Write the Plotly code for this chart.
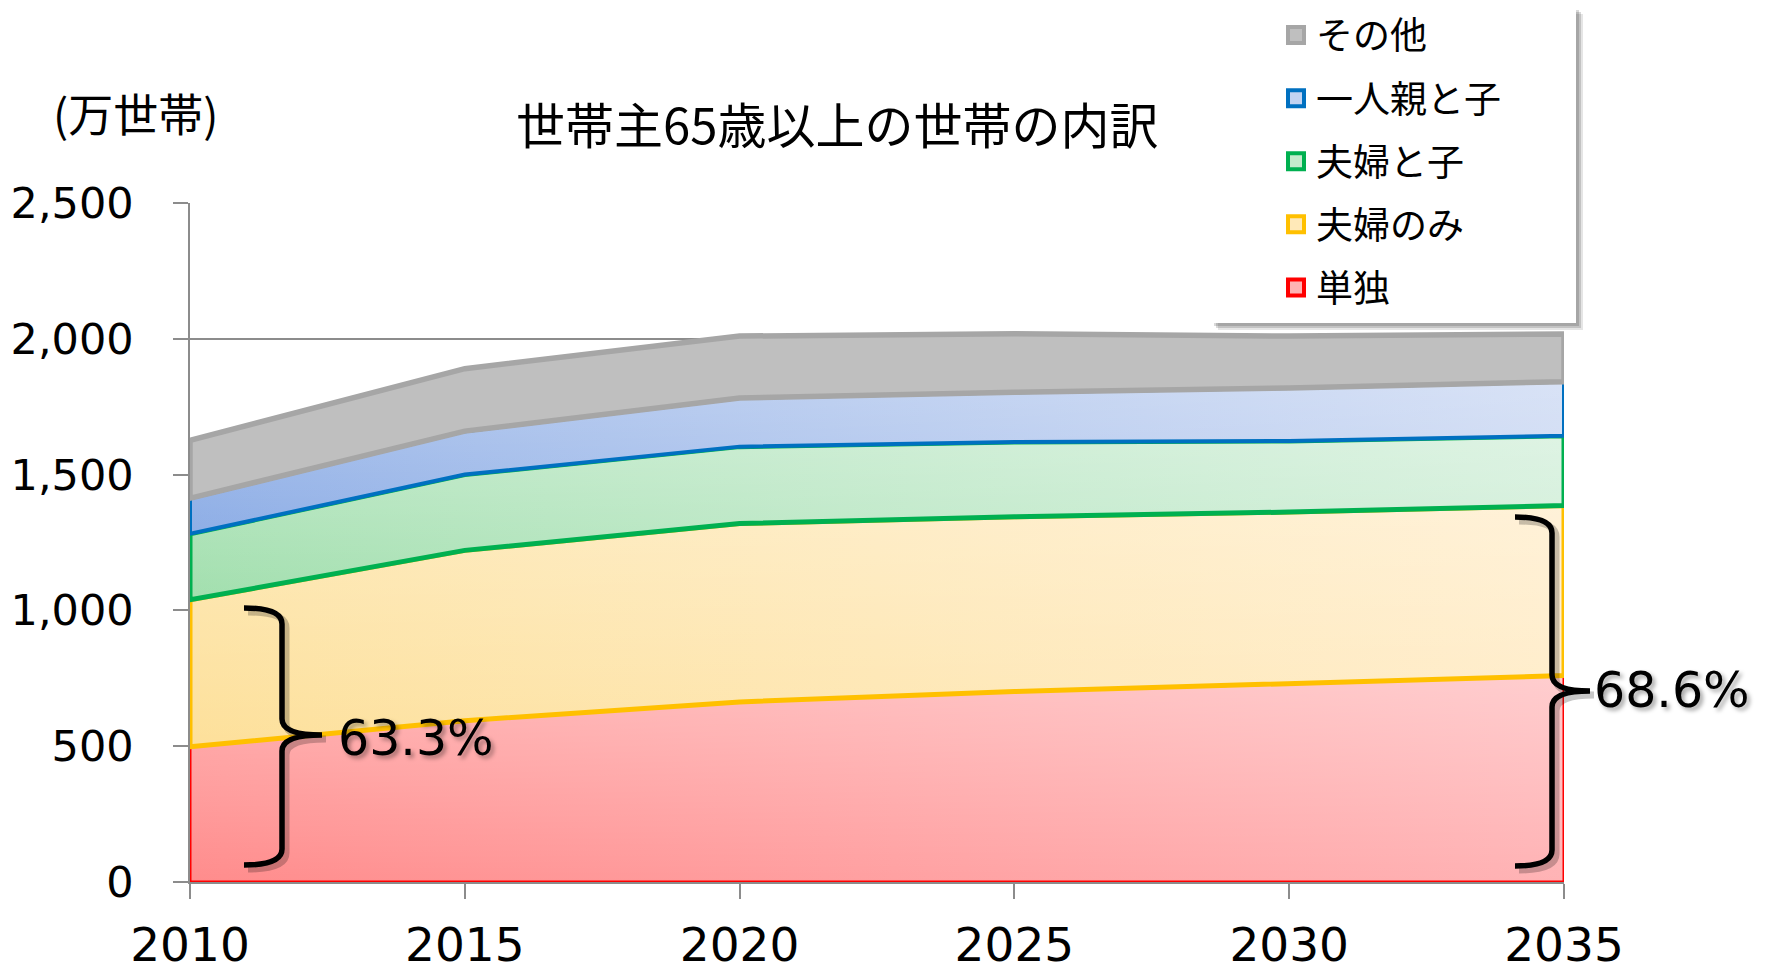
import plotly.graph_objects as go

# ---------------- data ----------------
years = [2010, 2015, 2020, 2025, 2030, 2035]
series_names = ["単独", "夫婦のみ", "夫婦と子", "一人親と子", "その他"]
single = [498, 594, 663, 701, 730, 760]
couple_only = [541, 627, 657, 644, 632, 626]
couple_child = [243, 279, 283, 275, 262, 257]
single_parent = [131, 160, 179, 183, 195, 199]
other = [213, 230, 228, 216, 191, 176]
y_ticks = [0, 500, 1000, 1500, 2000, 2500]
y_tick_text = ["0", "500", "1,000", "1,500", "2,000", "2,500"]
title_text = "世帯主65歳以上の世帯の内訳"
unit_text = "(万世帯)"
share_left = "63.3%"
share_right = "68.6%"

# ---------------- styles ----------------
line_colors = ["#ff0000", "#ffc000", "#00b050", "#0070c0", "#a6a6a6"]
line_widths = [3, 5, 5, 4, 5.5]
grad_left = ["#ff8c8c", "#fde09a", "#a2dfae", "#8eaee6", "#bfbfbf"]
grad_right = ["#ffb3b5", "#ffecc8", "#d0eed8", "#ccd9f3", "#bfbfbf"]
overlay_alpha = [0.35, 0.3, 0.3, 0.25, 0.0]
legend_fill = ["#ffb3b3", "#ffe9b8", "#c4ebcc", "#c2d3f2", "#bfbfbf"]

OFF = 8  # page body margin of the html page
PAGE_W, PAGE_H = 1771, 968
W, H = PAGE_W - OFF, PAGE_H - OFF
L, R, T, B = 190, 1564, 203, 882  # plot area in page pixels
CJK = "Noto Sans CJK JP"
NUM = "DejaVu Sans"


def px(x):
    return (x - L) / (R - L)


def py(y):
    return (B - y) / (B - T)


fig = go.Figure()

all_series = [single, couple_only, couple_child, single_parent, other]
base = [0] * len(years)
for i, vals in enumerate(all_series):
    top = [b + v for b, v in zip(base, vals)]
    xs = years + years[::-1] + [years[0]]
    ys = top + base[::-1] + [top[0]]
    fig.add_trace(go.Scatter(
        x=xs, y=ys, mode="lines", fill="toself",
        fillgradient=dict(type="horizontal",
                          colorscale=[[0, grad_left[i]], [1, grad_right[i]]]),
        line=dict(width=0), showlegend=False, hoverinfo="skip",
        name=series_names[i]))
    if overlay_alpha[i] > 0:
        fig.add_trace(go.Scatter(
            x=xs, y=ys, mode="lines", fill="toself",
            fillgradient=dict(type="vertical",
                              colorscale=[[0, "rgba(255,255,255,0)"],
                                          [1, f"rgba(255,255,255,{overlay_alpha[i]})"]]),
            line=dict(width=0), showlegend=False, hoverinfo="skip",
            name=series_names[i]))
    fig.add_trace(go.Scatter(
        x=xs, y=ys, mode="lines",
        line=dict(color=line_colors[i], width=line_widths[i]),
        showlegend=False, hoverinfo="skip", name=series_names[i]))
    base = top

# legend entries (top to bottom: その他 ... 単独)
for i in reversed(range(len(series_names))):
    fig.add_trace(go.Scatter(
        x=[None], y=[None], mode="markers", name=series_names[i],
        legendgroup=series_names[i],
        marker=dict(symbol="square", size=16, color=legend_fill[i],
                    line=dict(color=line_colors[i], width=4))))

shapes = []
# legend box shadow + box
for off, col in [(7, "rgba(0,0,0,0.10)"), (5, "rgba(0,0,0,0.15)"), (3, "rgba(0,0,0,0.15)")]:
    shapes.append(dict(type="rect", xref="paper", yref="paper", layer="above",
                       x0=px(1211 + off), x1=px(1576 + off), y0=py(323 + off), y1=py(7 + off),
                       line=dict(width=0), fillcolor=col))
shapes.append(dict(type="rect", xref="paper", yref="paper", layer="above",
                   x0=px(1211), x1=px(1576), y0=py(323), y1=py(7),
                   line=dict(width=0), fillcolor="white"))


def brace(x_end, x_line, x_cusp, y_top, y_mid, y_bot, r=16, dx=0, dy=0):
    def p(x, y):
        return f"{px(x + dx):.5f},{py(y + dy):.5f}"
    return ("M " + p(x_end, y_top) +
            " Q " + p(x_line, y_top) + " " + p(x_line, y_top + r) +
            " L " + p(x_line, y_mid - r) +
            " Q " + p(x_line, y_mid) + " " + p(x_cusp, y_mid) +
            " Q " + p(x_line, y_mid) + " " + p(x_line, y_mid + r) +
            " L " + p(x_line, y_bot - r) +
            " Q " + p(x_line, y_bot) + " " + p(x_end, y_bot))


for args in [(244, 282, 322, 608, 735, 865), (1515, 1552, 1590, 517, 691, 866)]:
    shapes.append(dict(type="path", xref="paper", yref="paper", layer="above",
                       path=brace(*args, dx=4, dy=4),
                       line=dict(color="rgba(0,0,0,0.22)", width=7)))
    shapes.append(dict(type="path", xref="paper", yref="paper", layer="above",
                       path=brace(*args),
                       line=dict(color="black", width=5.5)))

annotations = [
    dict(text=title_text, xref="paper", yref="paper", x=px(837), y=py(123),
         xanchor="center", yanchor="middle", showarrow=False,
         font=dict(family=CJK, size=49, color="black")),
    dict(text=unit_text, xref="paper", yref="paper", x=px(135), y=py(112.5),
         xanchor="center", yanchor="middle", showarrow=False,
         font=dict(family=CJK, size=45, color="black")),
    dict(text=share_left, xref="paper", yref="paper", x=px(336), y=py(738),
         xanchor="left", yanchor="middle", showarrow=False,
         font=dict(family=NUM, size=49, color="black",
                   shadow="3px 3px 4px rgba(0,0,0,0.35)")),
    dict(text=share_right, xref="paper", yref="paper", x=px(1592), y=py(690),
         xanchor="left", yanchor="middle", showarrow=False,
         font=dict(family=NUM, size=49, color="black",
                   shadow="3px 3px 4px rgba(0,0,0,0.35)")),
]

fig.update_layout(
    width=W, height=H,
    margin=dict(l=L - OFF, r=PAGE_W - R, t=T - OFF, b=PAGE_H - B, pad=0,
                autoexpand=False),
    paper_bgcolor="white", plot_bgcolor="white",
    shapes=shapes, annotations=annotations,
    showlegend=True,
    legend=dict(x=px(1276), y=py(4.5), xanchor="left", yanchor="top",
                bgcolor="rgba(0,0,0,0)", borderwidth=0,
                font=dict(family=CJK, size=37, color="black"),
                tracegroupgap=12, itemwidth=30),
    xaxis=dict(range=[years[0], years[-1]], tickvals=years, ticks="outside",
               ticklen=15, tickwidth=1.5, tickcolor="#8c8c8c",
               showline=True, linecolor="#8c8c8c", linewidth=1.5,
               showgrid=False, zeroline=False, ticklabelstandoff=6,
               tickfont=dict(family=NUM, size=47, color="black")),
    yaxis=dict(range=[0, 2500], tickvals=y_ticks, ticktext=y_tick_text,
               ticks="outside", ticklen=15, tickwidth=1.5, tickcolor="#8c8c8c",
               showline=True, linecolor="#8c8c8c", linewidth=1.5,
               showgrid=True, gridcolor="#8c8c8c", gridwidth=1.5,
               zeroline=False, ticklabelstandoff=31,
               tickfont=dict(family=NUM, size=43, color="black")),
)

fig.write_html("out.html")
